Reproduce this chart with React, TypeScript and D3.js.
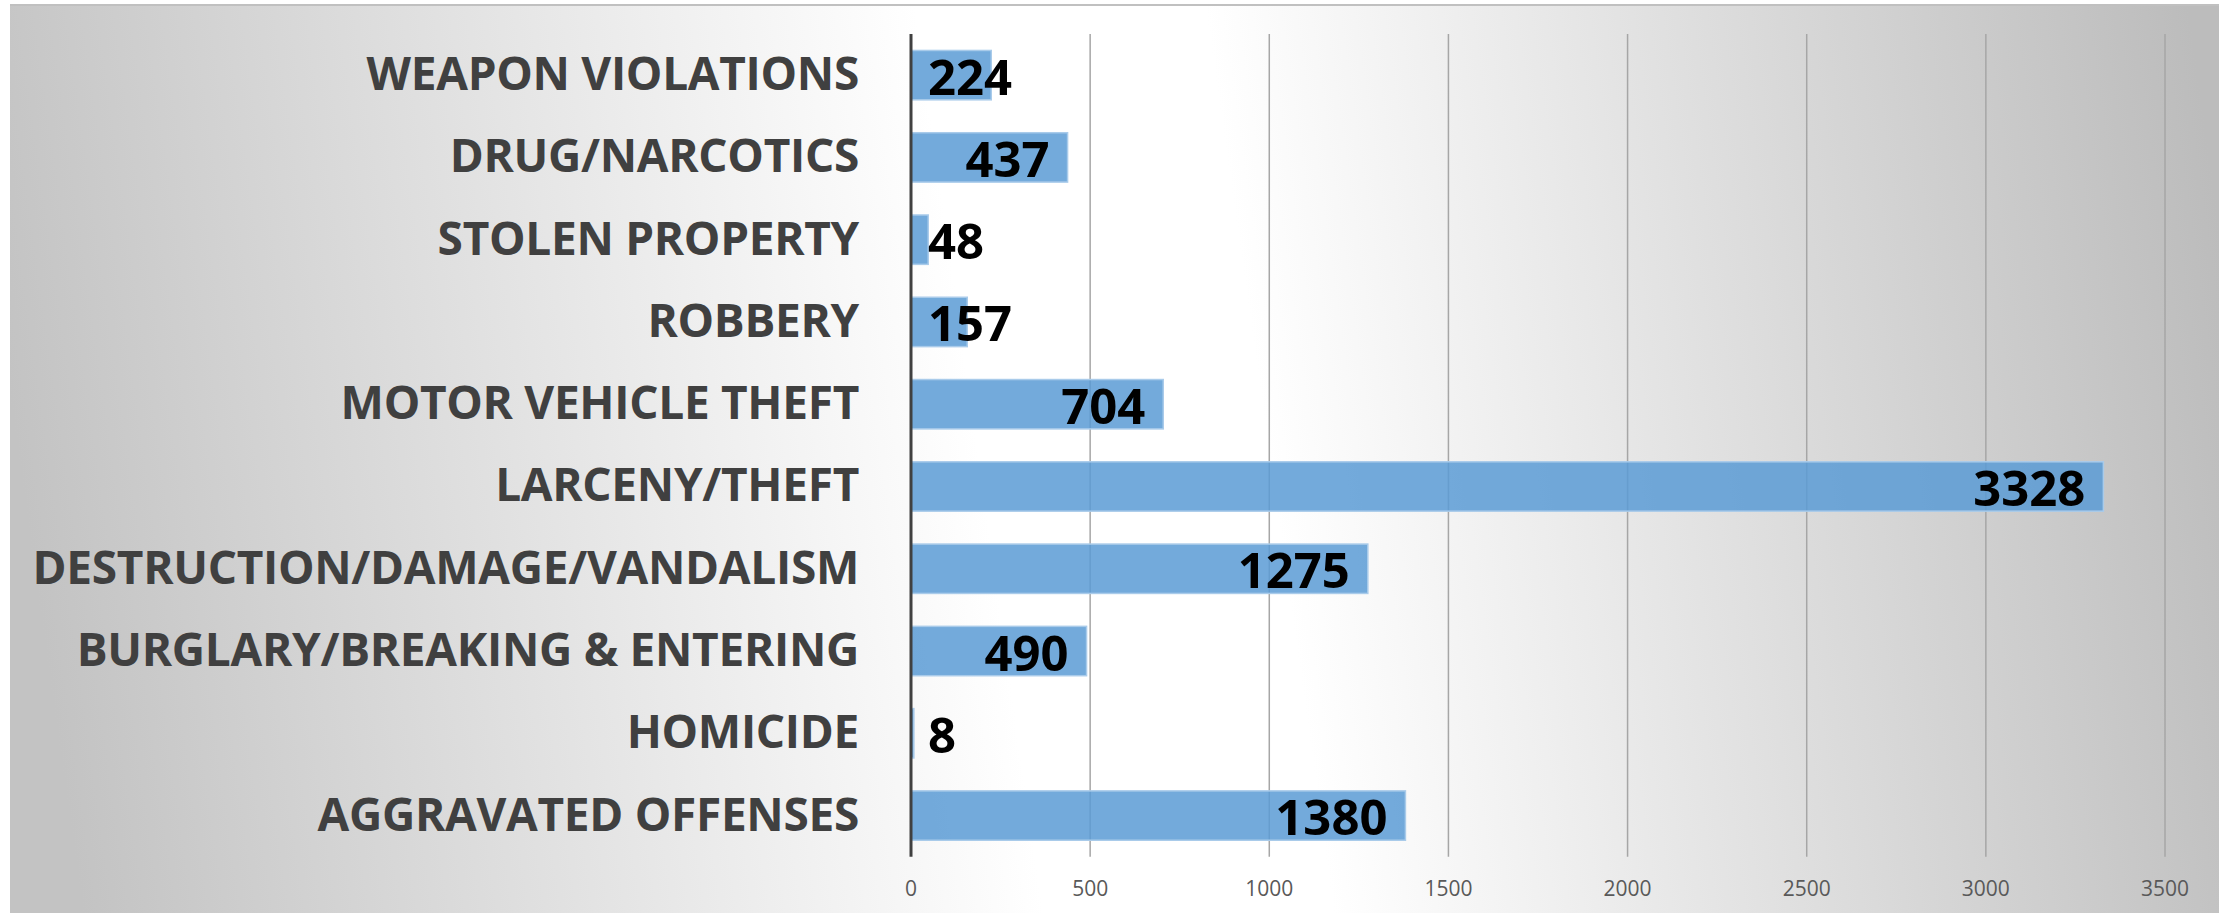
import React from "react";
import * as d3 from "d3";

const categories = [
  "WEAPON VIOLATIONS",
  "DRUG/NARCOTICS",
  "STOLEN PROPERTY",
  "ROBBERY",
  "MOTOR VEHICLE THEFT",
  "LARCENY/THEFT",
  "DESTRUCTION/DAMAGE/VANDALISM",
  "BURGLARY/BREAKING & ENTERING",
  "HOMICIDE",
  "AGGRAVATED OFFENSES",
];
const values = [224, 437, 48, 157, 704, 3328, 1275, 490, 8, 1380];
const tickValues = [0, 500, 1000, 1500, 2000, 2500, 3000, 3500];

const W = 2234;
const H = 913;
const FONT = "'Open Sans', 'DejaVu Sans', sans-serif";

let ctx: CanvasRenderingContext2D | null = null;
function measure(text: string, font: string): number {
  if (!ctx) {
    const c = document.createElement("canvas");
    ctx = c.getContext("2d");
  }
  if (!ctx) return text.length * 27;
  ctx.font = font;
  return ctx.measureText(text).width;
}

export default function App() {
  const x = d3.scaleLinear().domain([0, 3500]).range([911, 2165]);
  const y = d3
    .scaleBand<string>()
    .domain(categories)
    .range([34, 856.7])
    .paddingInner(0.4)
    .paddingOuter(0.2);
  const bw = y.bandwidth();
  const axisX = x(0);

  return (
    <svg
      width={W}
      height={H}
      viewBox={`0 0 ${W} ${H}`}
      style={{ position: "absolute", left: 0, top: 0, display: "block" }}
    >
      <defs>
        <linearGradient
          id="bg"
          gradientUnits="userSpaceOnUse"
          x1={40}
          y1={610}
          x2={2230}
          y2={300}
        >
          <stop offset="0" stopColor="#c3c3c3" />
          <stop offset="0.43" stopColor="#ffffff" />
          <stop offset="0.56" stopColor="#ffffff" />
          <stop offset="1" stopColor="#bcbcbc" />
        </linearGradient>
      </defs>
      <rect x={0} y={0} width={W} height={H} fill="#ffffff" />
      <rect x={10} y={5} width={2209} height={H} fill="url(#bg)" />
      <line x1={10} x2={2219} y1={5} y2={5} stroke="#c0c0c0" strokeWidth={2} />

      {/* gridlines */}
      {tickValues
        .filter((t) => t > 0)
        .map((t) => (
          <line
            key={"g" + t}
            x1={x(t)}
            x2={x(t)}
            y1={34}
            y2={856.7}
            stroke="#a6a6a6"
            strokeWidth={1.5}
          />
        ))}

      {/* bars */}
      {categories.map((c, i) => (
        <rect
          key={"b" + c}
          x={axisX}
          y={y(c)!}
          width={x(values[i]) - axisX}
          height={bw}
          fill="rgb(91,155,213)"
          fillOpacity={0.85}
          stroke="#a9cbea"
          strokeWidth={1.5}
        />
      ))}

      {/* axis line */}
      <line
        x1={axisX}
        x2={axisX}
        y1={34}
        y2={856.7}
        stroke="#404040"
        strokeWidth={3}
      />

      {/* category labels */}
      {categories.map((c) => (
        <text
          key={"c" + c}
          x={859}
          y={y(c)! + bw / 2 + 15}
          textAnchor="end"
          fontFamily={FONT}
          fontWeight={700}
          fontSize={46}
          letterSpacing={-0.3}
          fill="#404040"
        >
          {c}
        </text>
      ))}

      {/* value labels */}
      {categories.map((c, i) => {
        const label = String(values[i]);
        const w = measure(label, `700 49px 'Open Sans'`);
        const end = x(values[i]) - 18;
        const fits = end - w >= axisX + 17;
        return (
          <text
            key={"v" + c}
            x={fits ? end : axisX + 17}
            y={y(c)! + bw / 2 + 19.5}
            textAnchor={fits ? "end" : "start"}
            fontFamily={FONT}
            fontWeight={700}
            fontSize={49}
            fill="#000000"
          >
            {label}
          </text>
        );
      })}

      {/* tick labels */}
      {tickValues.map((t) => (
        <text
          key={"t" + t}
          x={x(t)}
          y={895.5}
          textAnchor="middle"
          fontFamily={FONT}
          fontSize={21}
          fill="#595959"
        >
          {t}
        </text>
      ))}
    </svg>
  );
}
